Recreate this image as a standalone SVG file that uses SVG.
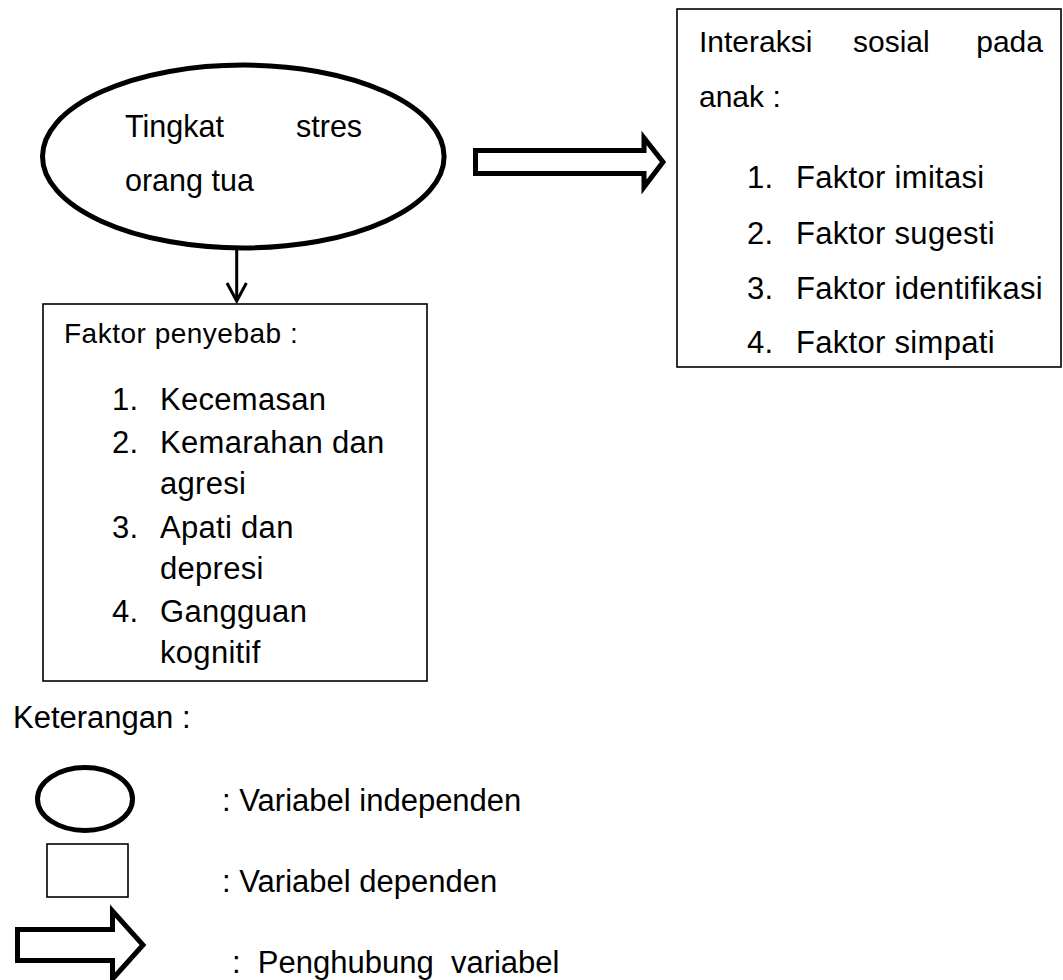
<svg xmlns="http://www.w3.org/2000/svg" width="1063" height="980" viewBox="0 0 1063 980">
<style>
.t{font-family:"Liberation Sans",Arial,sans-serif;font-size:30px;fill:#000}
.e{font-size:30.5px}
.l{font-size:31px;letter-spacing:0.3px}
.s{font-size:28px;letter-spacing:0.5px}
.g{font-size:31px}
.ell{fill:#fff;stroke:#000;stroke-width:5}
.box{fill:#fff;stroke:#000;stroke-width:1.6}
.blk{fill:#fff;stroke:#000;stroke-width:5;stroke-linejoin:miter}
.con{fill:none;stroke:#000;stroke-width:3}
</style>
<rect width="1063" height="980" fill="#fff"/>
<g id="node-stres">
<ellipse class="ell" cx="243.3" cy="156.5" rx="200.8" ry="91.5"/>
<text class="t e" x="125" y="137">Tingkat</text>
<text class="t e" x="296" y="137">stres</text>
<text class="t e" x="125" y="191">orang tua</text>
</g>
<g id="node-faktor">
<rect class="box" x="43" y="304" width="384" height="377"/>
<text class="t s" x="64" y="343">Faktor penyebab :</text>
<text class="t l" x="112" y="410">1.</text><text class="t l" x="160" y="410">Kecemasan</text>
<text class="t l" x="112" y="453">2.</text><text class="t l" x="160" y="453">Kemarahan dan</text>
<text class="t l" x="160" y="494">agresi</text>
<text class="t l" x="112" y="538">3.</text><text class="t l" x="160" y="538">Apati dan</text>
<text class="t l" x="160" y="579">depresi</text>
<text class="t l" x="112" y="622">4.</text><text class="t l" x="160" y="622">Gangguan</text>
<text class="t l" x="160" y="663">kognitif</text>
</g>
<g id="node-interaksi">
<rect class="box" x="677" y="9" width="384" height="358"/>
<text class="t" x="699" y="52">Interaksi</text>
<text class="t" x="853" y="52">sosial</text>
<text class="t" x="1043" y="52" text-anchor="end">pada</text>
<text class="t" x="699" y="107">anak :</text>
<text class="t l" x="747" y="188">1.</text><text class="t l" x="796" y="188">Faktor imitasi</text>
<text class="t l" x="747" y="244">2.</text><text class="t l" x="796" y="244">Faktor sugesti</text>
<text class="t l" x="747" y="299">3.</text><text class="t l" x="796" y="299">Faktor identifikasi</text>
<text class="t l" x="747" y="353">4.</text><text class="t l" x="796" y="353">Faktor simpati</text>
</g>
<g id="connectors">
<path class="con" d="M236.7,248 V301"/>
<path class="con" d="M227,283 L236.7,301 L246.4,283"/>
<path class="blk" d="M475.5,150.5 H644 V138 L663,162 L644,187 V173.5 H475.5 Z"/>
</g>
<g id="legend">
<text class="t g" x="13" y="728">Keterangan :</text>
<ellipse class="ell" cx="85" cy="799" rx="47.5" ry="31.5"/>
<text class="t g" x="222" y="811">: Variabel independen</text>
<rect class="box" x="47" y="844" width="81" height="53"/>
<text class="t g" x="222" y="892">: Variabel dependen</text>
<path class="blk" d="M17.5,929.5 H112.5 V911 L143,945 L112.5,979 V960.5 H17.5 Z"/>
<text class="t g" x="232" y="973" xml:space="preserve">:  Penghubung  variabel</text>
</g>
</svg>
